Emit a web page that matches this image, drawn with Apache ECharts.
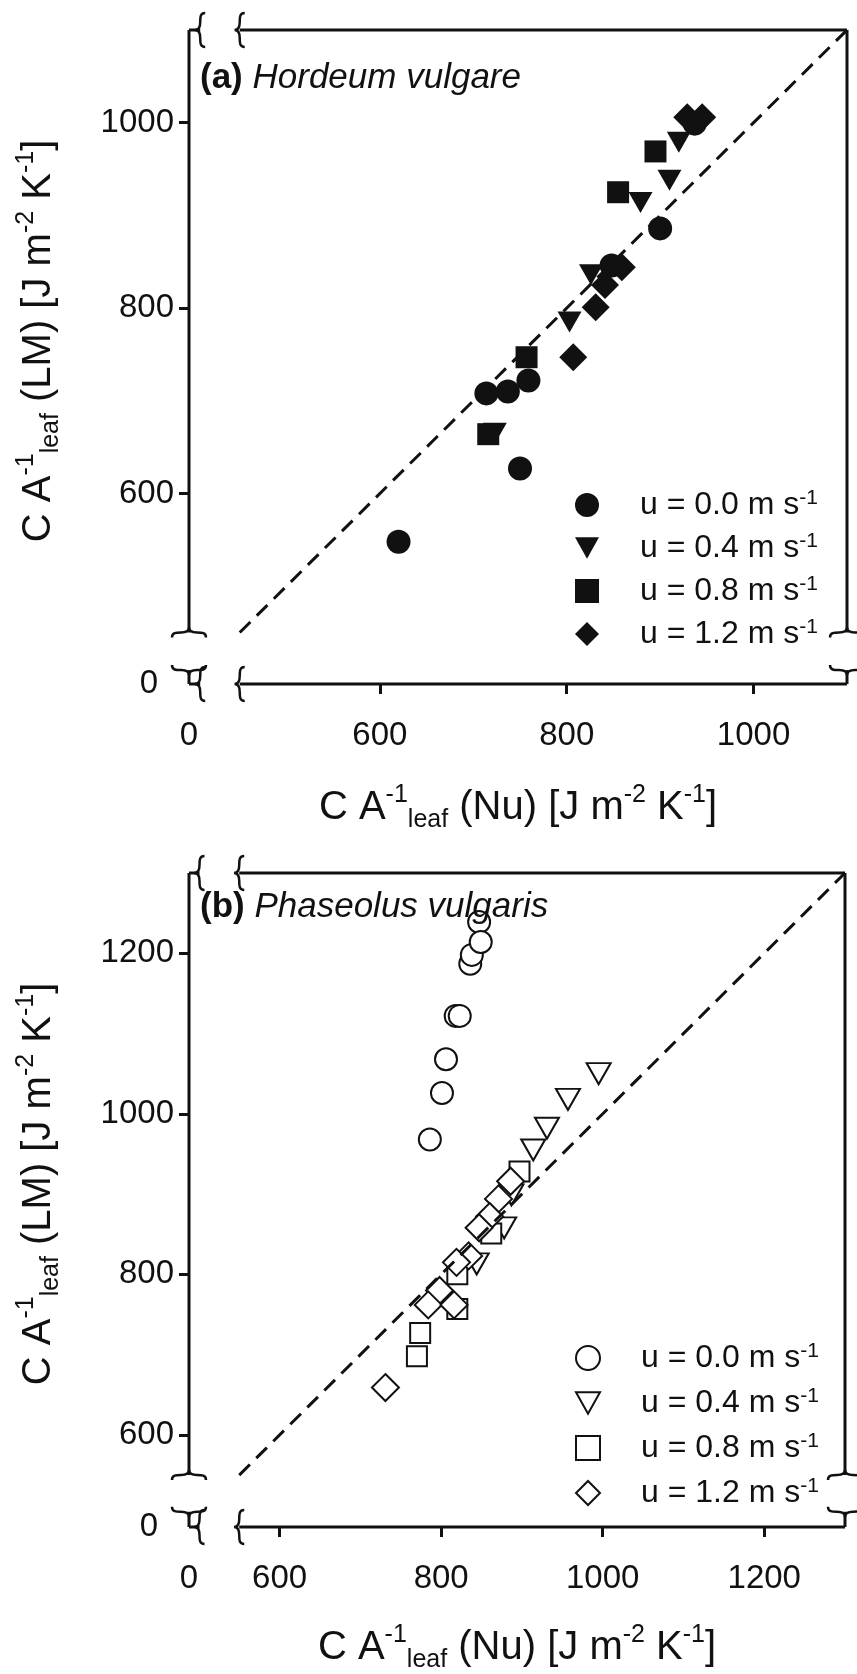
<!DOCTYPE html>
<html><head><meta charset="utf-8">
<script src="https://cdn.jsdelivr.net/npm/echarts@6.0.0/dist/echarts.min.js"></script>
<style>html,body{margin:0;padding:0;background:#fff;}#chart{width:857px;height:1674px;}</style>
</head><body><div id="chart"></div>
<script>
// ---------------- data ----------------
const speeds = ['0.0', '0.4', '0.8', '1.2'];
// Panel (a) Hordeum vulgare: [C/A (Nu), C/A (LM)]
const aU00 = [[620,548],[714,708],[737,710],[759,722],[750,627],[848,846],[900,886],[937,999]];
const aU04 = [[723,665],[803,785],[826,836],[879,914],[910,938],[920,979]];
const aU08 = [[716,664],[757,747],[855,925],[895,969]];
const aU12 = [[807,747],[831,801],[841,825],[859,844],[929,1006],[945,1006]];
// Panel (b) Phaseolus vulgaris
const bU00 = [[786,968],[801,1026],[806,1068],[818,1122],[823,1122],[836,1187],[838,1198],[847,1239],[849,1214]];
const bU04 = [[995,1050],[957,1018],[931,982],[914,955],[887,899],[878,858],[844,813]];
const bU08 = [[897,928],[862,851],[820,800],[820,757],[774,727],[770,698]];
const bU12 = [[886,916],[871,894],[860,872],[847,858],[834,823],[819,815],[798,780],[784,762],[816,762],[731,659]];
// 1:1 lines
const aOneToOne = [[450,450],[1100,1100]];
const bOneToOne = [[550,550],[1300,1300]];
// tick labels
const aXLabels = [0,600,800,1000];
const aYLabels = [0,600,800,1000];
const bXLabels = [0,600,800,1000,1200];
const bYLabels = [0,600,800,1000,1200];

// ---------------- style ----------------
const INK = '#111';
const FONT = 'Liberation Sans, Arial, sans-serif';
const chart = echarts.init(document.getElementById('chart'), null, {renderer:'canvas'});

const nameRich = {
  m:{fontSize:40, lineHeight:50, fontFamily:FONT, color:INK},
  sp:{fontSize:25, lineHeight:25, verticalAlign:'top', fontFamily:FONT, color:INK},
  sb:{fontSize:25, lineHeight:14, verticalAlign:'bottom', fontFamily:FONT, color:INK}
};
function axisName(q){ return '{m|C A}{sp|-1}{sb|leaf}{m| ('+q+') [J m}{sp|-2}{m| K}{sp|-1}{m|]}'; }

function makeAxis(g, max, brk, gap, labels, isX, name, nameGap, namePad){
  return {
    type:'value', gridIndex:g, min:0, max:max,
    breaks:[{start:brk[0], end:brk[1], gap:gap}],
    breakArea:{show:false},
    axisLine:{show:false},
    splitLine:{show:false},
    axisTick:{show:true, length:10, customValues:labels.filter(v=>v>0), lineStyle:{color:INK, width:3}},
    axisLabel:{customValues:labels, margin:isX?35:15, fontSize:33, fontFamily:FONT, color:INK,
      formatter:(v)=> (v===0 && !isX) ? '{z|0}' : String(v),
      rich:{z:{padding:[0,16,0,0], fontSize:33, fontFamily:FONT, color:INK}}},
    name:name, nameLocation:'middle', nameGap:nameGap, nameRotate:isX?0:90,
    nameTextStyle:{rich:nameRich, padding:namePad}
  };
}

function filled(name, data, symbol, size, xi){
  return {type:'scatter', name:name, data:data, symbol:symbol, symbolSize:size,
    xAxisIndex:xi, yAxisIndex:xi, itemStyle:{color:INK, opacity:1}, silent:true};
}
function hollow(name, data, symbol, size, xi){
  return {type:'scatter', name:name, data:data, symbol:symbol, symbolSize:size,
    xAxisIndex:xi, yAxisIndex:xi, itemStyle:{color:'#fff', borderColor:INK, borderWidth:2, opacity:1}, silent:true};
}
const TRI = 'path://M0,0L20,0L10,18Z';

function legendOf(names, top, gap){
  return {data:names, orient:'vertical', left:575, top:top, itemWidth:24, itemHeight:24, itemGap:gap,
    padding:0, selectedMode:false,
    formatter:(n)=>'{t|u = '+speeds[+n[1]]+' m s}{s|-1}',
    textStyle:{rich:{
      t:{fontSize:32, lineHeight:34, fontFamily:FONT, color:INK, padding:[0,0,0,36]},
      s:{fontSize:21, lineHeight:21, verticalAlign:'top', fontFamily:FONT, color:INK}}}};
}
function titleOf(tag, species, top){
  return {text:'{b|('+tag+')} {i|'+species+'}', left:200, top:top, padding:0,
    textStyle:{fontSize:35, fontWeight:'normal', fontFamily:FONT, color:INK, rich:{
      b:{fontSize:35, fontWeight:'bold', fontFamily:FONT, color:INK},
      i:{fontSize:35, fontWeight:'normal', fontStyle:'italic', fontFamily:FONT, color:INK}}}};
}

const option = {
  animation:false,
  backgroundColor:'#fff',
  title:[titleOf('a','Hordeum vulgare',61), titleOf('b','Phaseolus vulgaris',890)],
  grid:[
    {left:189, top:30, width:658, height:654},
    {left:189, top:873, width:656, height:655}
  ],
  xAxis:[
    makeAxis(0, 1100, [12,450], 42.3, aXLabels, true, axisName('Nu'), 99, 0),
    makeAxis(1, 1300, [13,550], 49.2, bXLabels, true, axisName('Nu'), 96, 0)
  ],
  yAxis:[
    makeAxis(0, 1100, [15,450], 40.5, aYLabels, false, axisName('LM'), 125, [0,0,0,32]),
    makeAxis(1, 1300, [19,550], 45.7, bYLabels, false, axisName('LM'), 125, [0,0,0,32])
  ],
  legend:[legendOf(['a0','a1','a2','a3'], 488, 10), legendOf(['b0','b1','b2','b3'], 1341, 12)],
  series:[
    {type:'line', data:aOneToOne, xAxisIndex:0, yAxisIndex:0, symbol:'none', silent:true,
     lineStyle:{color:INK, width:3, type:[15,9]}},
    filled('a0', aU00, 'circle', 24, 0),
    filled('a1', aU04, TRI, [24,21], 0),
    filled('a2', aU08, 'rect', 22, 0),
    filled('a3', aU12, 'diamond', 28, 0),
    {type:'line', data:bOneToOne, xAxisIndex:1, yAxisIndex:1, symbol:'none', silent:true,
     lineStyle:{color:INK, width:3, type:[15,9]}},
    hollow('b0', bU00, 'circle', 22, 1),
    hollow('b1', bU04, TRI, [24,21], 1),
    hollow('b2', bU08, 'rect', 20, 1),
    hollow('b3', bU12, 'diamond', 27, 1)
  ]
};
chart.setOption(option);

// ---------- axis frame with break braces ----------
const els = [];
const lineStyle = {stroke:INK, lineWidth:3, lineCap:'butt'};
function seg(p1, p2){
  els.push({type:'line', silent:true, z:50, shape:{x1:p1[0], y1:p1[1], x2:p2[0], y2:p2[1]}, style:lineStyle});
}
const BR = [
  [[5,-17],[0,-17],[0,-13],[0,-8]],
  [[0,-8],[0,-3],[-1,0],[-5,0]],
  [[-5,0],[-1,0],[0,3],[0,8]],
  [[0,8],[0,13],[0,17],[5,17]]
];
function brace(p, tf){
  BR.forEach(c=>{
    const q = c.map(tf);
    els.push({type:'bezierCurve', silent:true, z:50, shape:{
      x1:p[0]+q[0][0], y1:p[1]+q[0][1], cpx1:p[0]+q[1][0], cpy1:p[1]+q[1][1],
      cpx2:p[0]+q[2][0], cpy2:p[1]+q[2][1], x2:p[0]+q[3][0], y2:p[1]+q[3][1]},
      style:{stroke:INK, lineWidth:2.5, fill:null}});
  });
}
const vert = (d)=>[d[0], d[1]];
const nubUp = (d)=>[d[1], d[0]];
const nubDown = (d)=>[d[1], -d[0]];
function frame(g, xmax, ymax, xb, yb){
  const P = (x,y)=>chart.convertToPixel({gridIndex:g}, [x,y]);
  [0, ymax].forEach(y=>{
    seg(P(0,y), P(xb[0],y)); seg(P(xb[1],y), P(xmax,y));
    brace(P(xb[0],y), vert); brace(P(xb[1],y), vert);
  });
  [0, xmax].forEach(x=>{
    seg(P(x,0), P(x,yb[0])); seg(P(x,yb[1]), P(x,ymax));
    brace(P(x,yb[0]), nubDown); brace(P(x,yb[1]), nubUp);
  });
}
frame(0, 1100, 1100, [12,450], [15,450]);
frame(1, 1300, 1300, [13,550], [19,550]);
chart.setOption({graphic:{elements:els}});
</script></body></html>
